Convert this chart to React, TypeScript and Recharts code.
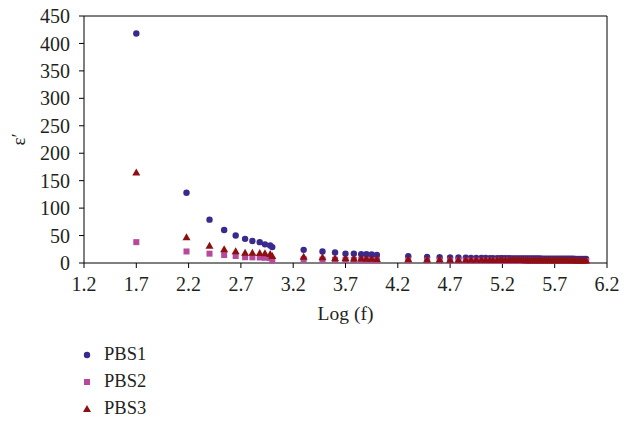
import React from 'react';
import { ScatterChart, Scatter, XAxis, YAxis, ReferenceLine, Legend, Label } from 'recharts';

// log(f) positions
const logF = [
  1.7, 2.18, 2.4, 2.54, 2.65, 2.74, 2.81, 2.88, 2.93, 2.98, 3.0,
  3.3, 3.48, 3.6, 3.7, 3.78, 3.85, 3.9, 3.95, 4.0,
  4.3, 4.48, 4.6, 4.7, 4.78,
  4.85, 4.9, 4.95, 5.0, 5.04, 5.08, 5.11, 5.15, 5.18, 5.2, 5.23, 5.26, 5.28, 5.3,
  5.32, 5.34, 5.36, 5.38, 5.4, 5.42, 5.44, 5.46, 5.48, 5.5, 5.52, 5.54, 5.56, 5.58,
  5.6, 5.62, 5.64, 5.66, 5.68, 5.7, 5.72, 5.74, 5.76, 5.78, 5.8, 5.82, 5.84, 5.86,
  5.88, 5.9, 5.92, 5.94, 5.96, 5.98, 6.0,
];

const pbs1 = [
  418, 128, 79, 60, 50, 44, 40, 38, 34, 32, 29,
  24, 21, 19, 17, 17, 16, 16, 15.5, 14.5,
  12.5, 11, 10.5, 10, 10,
  9.5, 9.3, 9.2, 9.0, 9.0, 8.9, 8.8, 8.8, 8.7, 8.7, 8.6, 8.6, 8.5, 8.5,
  8.5, 8.4, 8.4, 8.4, 8.3, 8.3, 8.3, 8.2, 8.2, 8.2, 8.1, 8.1, 8.1, 8.0,
  8.0, 8.0, 8.0, 7.9, 7.9, 7.9, 7.9, 7.8, 7.8, 7.8, 7.8, 7.7, 7.7, 7.7,
  7.7, 7.6, 7.6, 7.6, 7.6, 7.5, 7.5,
];

const pbs2 = [
  38, 21, 17, 14.5, 12.8, 10.5, 10.3, 10, 9.5, 9, 5,
  6.7, 6.2, 6, 5.8, 5.6, 5.5, 5.4, 5.3, 5.2,
  4.9, 4.7, 4.6, 4.5, 4.5,
  4.4, 4.4, 4.4, 4.3, 4.3, 4.3, 4.3, 4.2, 4.2, 4.2, 4.2, 4.2, 4.1, 4.1,
  4.1, 4.1, 4.1, 4.1, 4.0, 4.0, 4.0, 4.0, 4.0, 4.0, 4.0, 3.9, 3.9, 3.9,
  3.9, 3.9, 3.9, 3.9, 3.8, 3.8, 3.8, 3.8, 3.8, 3.8, 3.8, 3.8, 3.7, 3.7,
  3.7, 3.7, 3.7, 3.7, 3.7, 3.6, 3.6,
];

const pbs3 = [
  165, 47, 31.5, 25, 21.3, 18.8, 18.5, 18, 17.6, 16.4, 12.8,
  11.5, 10.3, 8.8, 8.5, 8.2, 8, 7.8, 7.6, 7.5,
  7, 6.5, 6.3, 6.1, 6,
  5.9, 5.8, 5.8, 5.7, 5.7, 5.6, 5.6, 5.6, 5.5, 5.5, 5.5, 5.4, 5.4, 5.4,
  5.4, 5.3, 5.3, 5.3, 5.3, 5.2, 5.2, 5.2, 5.2, 5.1, 5.1, 5.1, 5.1, 5.1,
  5.0, 5.0, 5.0, 5.0, 5.0, 4.9, 4.9, 4.9, 4.9, 4.9, 4.8, 4.8, 4.8, 4.8,
  4.8, 4.7, 4.7, 4.7, 4.7, 4.7, 4.6,
];

const xTicks = [1.2, 1.7, 2.2, 2.7, 3.2, 3.7, 4.2, 4.7, 5.2, 5.7, 6.2];
const yTicks = [0, 50, 100, 150, 200, 250, 300, 350, 400, 450];
const seriesNames = ['PBS1', 'PBS2', 'PBS3'];
const seriesColors = ['#3b2a8e', '#b8489c', '#8c1012'];

const FONT = "'Liberation Serif', 'DejaVu Serif', serif";
const TEXT = '#231f20';

const toPoints = (ys: number[]) => logF.map((x, i) => ({ x, y: ys[i] }));

const CircleShape = (p: any) => <circle cx={p.cx} cy={p.cy} r={3.2} fill={seriesColors[0]} />;
const SquareShape = (p: any) => (
  <rect x={p.cx - 3} y={p.cy - 3} width={6} height={6} fill={seriesColors[1]} />
);
const TriangleShape = (p: any) => (
  <polygon
    points={`${p.cx},${p.cy - 4} ${p.cx + 4},${p.cy + 3} ${p.cx - 4},${p.cy + 3}`}
    fill={seriesColors[2]}
  />
);

const legendMarker = (i: number) => {
  if (i === 0) return <circle cx={7} cy={7} r={3.2} fill={seriesColors[0]} />;
  if (i === 1) return <rect x={4} y={4} width={6} height={6} fill={seriesColors[1]} />;
  return <polygon points="7,3 11,10 3,10" fill={seriesColors[2]} />;
};

const LegendContent = () => (
  <div style={{ fontFamily: FONT, fontSize: 18.5, color: TEXT }}>
    {seriesNames.map((name, i) => (
      <div key={name} style={{ display: 'flex', alignItems: 'center', height: 27 }}>
        <svg width={14} height={14} style={{ display: 'block' }}>
          {legendMarker(i)}
        </svg>
        <span style={{ marginLeft: 10, lineHeight: '27px' }}>{name}</span>
      </div>
    ))}
  </div>
);

const YLabel = (props: any) => {
  const vb = props.viewBox || { x: 0, y: 0, width: 0, height: 0 };
  const cx = vb.x + 18;
  const cy = vb.y + vb.height / 2;
  return (
    <text
      x={cx}
      y={cy}
      transform={`rotate(-90 ${cx} ${cy})`}
      textAnchor="middle"
      dominantBaseline="central"
      fontFamily={FONT}
      fontSize={19}
      fill={TEXT}
    >
      ε′
    </text>
  );
};

export default function App() {
  return (
    <div style={{ position: 'absolute', left: 0, top: 0, width: 636, height: 422, background: '#fff' }}>
      <ScatterChart width={636} height={422} margin={{ top: 16, right: 29, left: 0, bottom: 99 }}>
        <XAxis
          type="number"
          dataKey="x"
          domain={[1.2, 6.2]}
          ticks={xTicks}
          interval={0}
          allowDataOverflow
          height={60}
          tickSize={5}
          tickMargin={9}
          tickFormatter={(v: number) => v.toFixed(1)}
          stroke="#000"
          tick={{ fontFamily: FONT, fontSize: 20, fill: TEXT }}
        >
          <Label value="Log (f)" position="insideBottom" offset={3} style={{ fontFamily: FONT, fontSize: 19.5, fill: TEXT }} />
        </XAxis>
        <YAxis
          type="number"
          dataKey="y"
          domain={[0, 450]}
          ticks={yTicks}
          interval={0}
          width={84}
          tickSize={5}
          tickMargin={9}
          stroke="#000"
          tick={{ fontFamily: FONT, fontSize: 20, fill: TEXT }}
        >
          <Label content={YLabel} />
        </YAxis>
        <ReferenceLine y={450} stroke="#000" />
        <ReferenceLine x={6.2} stroke="#000" />
        <Scatter name={seriesNames[0]} data={toPoints(pbs1)} fill={seriesColors[0]} shape={CircleShape} isAnimationActive={false} />
        <Scatter name={seriesNames[1]} data={toPoints(pbs2)} fill={seriesColors[1]} shape={SquareShape} isAnimationActive={false} />
        <Scatter name={seriesNames[2]} data={toPoints(pbs3)} fill={seriesColors[2]} shape={TriangleShape} isAnimationActive={false} />
        <Legend
          layout="vertical"
          align="center"
          verticalAlign="middle"
          content={LegendContent}
          wrapperStyle={{ top: 341, left: 80, width: 200 }}
        />
      </ScatterChart>
    </div>
  );
}
